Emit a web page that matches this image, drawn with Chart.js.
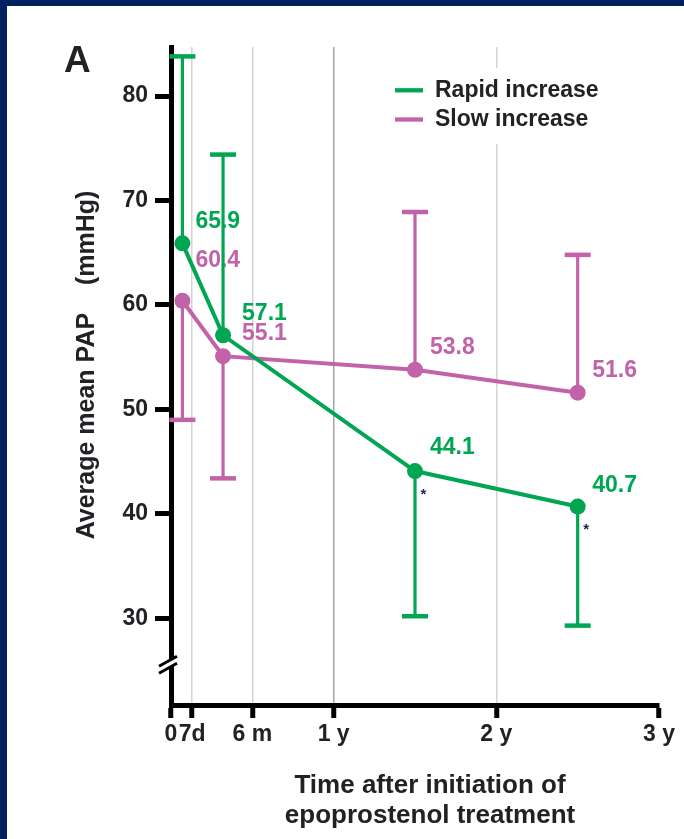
<!DOCTYPE html>
<html>
<head>
<meta charset="utf-8">
<title>Average mean PAP</title>
<script src="https://cdn.jsdelivr.net/npm/chart.js@4.4.1/dist/chart.umd.min.js"></script>
<style>
  html, body { margin: 0; padding: 0; background: #fff; }
  #wrap { width: 684px; height: 839px; }
</style>
</head>
<body>
<div id="wrap"><canvas id="chart" width="684" height="839"></canvas></div>
<script>
// ==== データ ====
const seriesNames = ["Rapid increase", "Slow increase"];
const timeYears   = [0.07, 0.32, 1.5, 2.5];        // 観察時点（年）
const rapidMean   = [65.9, 57.1, 44.1, 40.7];
const slowMean    = [60.4, 55.1, 53.8, 51.6];
// 片側エラーバーの端
const rapidErrEnd = [83.8, 74.4, 30.2, 29.3];
const slowErrEnd  = [49.0, 43.4, 68.9, 64.8];
const rapidStar   = [false, false, true, true];   // * 有意差
const xTickValues = [0, 0.13, 0.5, 1, 2, 3];
const xTickLabels = ["0", "7d", "6 m", "1 y", "2 y", "3 y"];
const yTickValues = [30, 40, 50, 60, 70, 80];

// ==== 見た目 ====
const GREEN  = "#00a651";
const PURPLE = "#c262a8";
const INK    = "#222226";
const NAVY   = "#002060";
const FONT   = "'Liberation Sans', Arial, Helvetica, sans-serif";
const BREAK_AT = 25.5;   // 縦軸の波線位置（値）
// データラベルの位置ずれ [dx, dy]
const LABEL_OFFSETS = [
  [[13, -22], [19, -21.5], [15, -23], [14.5, -21]],
  [[13, -40], [19, -22],   [15, -22.5], [14.5, -22]]
];
const errEnds = [rapidErrEnd, slowErrEnd];
const xGridColors = ["rgba(0,0,0,0)", "#d4d4d4", "#d4d4d4", "#a3a3a3", "#d4d4d4", "rgba(0,0,0,0)"];

/** 背景と紺色の枠 */
const framePlugin = {
  id: "frame",
  beforeDraw(chart) {
    const c = chart.ctx;
    c.save();
    c.fillStyle = "#fff";
    c.fillRect(0, 0, chart.width, chart.height);
    c.fillStyle = NAVY;
    c.fillRect(0, 0, chart.width, 6);
    c.fillRect(0, 0, 7, chart.height);
    c.restore();
  }
};

/** 数値ラベル → エラーバー（ラベルの上にバーが重なる） */
const errorBarPlugin = {
  id: "errorBars",
  beforeDatasetsDraw(chart) {
    const c = chart.ctx;
    const y = chart.scales.y;
    c.save();
    c.font = `bold 23px ${FONT}`;
    c.textAlign = "left";
    c.textBaseline = "middle";
    chart.data.datasets.forEach((ds, di) => {
      chart.getDatasetMeta(di).data.forEach((pt, i) => {
        const [dx, dy] = LABEL_OFFSETS[di][i];
        c.fillStyle = ds.borderColor;
        c.fillText(ds.data[i].y.toFixed(1), pt.x + dx, pt.y + dy);
      });
    });
    chart.data.datasets.forEach((ds, di) => {
      chart.getDatasetMeta(di).data.forEach((pt, i) => {
        const yEnd = y.getPixelForValue(errEnds[di][i]);
        c.strokeStyle = ds.borderColor;
        c.lineWidth = 3.2;
        c.beginPath(); c.moveTo(pt.x, pt.y); c.lineTo(pt.x, yEnd); c.stroke();
        c.lineWidth = 4.5;
        c.beginPath(); c.moveTo(pt.x - 13, yEnd); c.lineTo(pt.x + 13, yEnd); c.stroke();
      });
    });
    c.restore();
  }
};

/** 凡例・星印 */
const legendPlugin = {
  id: "legendBox",
  afterDatasetsDraw(chart) {
    const c = chart.ctx;
    c.save();
    // 有意差の *
    c.font = `bold 15px ${FONT}`;
    c.fillStyle = "#1d2452";
    c.textAlign = "center";
    c.textBaseline = "middle";
    chart.getDatasetMeta(0).data.forEach((pt, i) => {
      if (rapidStar[i]) c.fillText("*", pt.x + 8.5, pt.y + 23.5);
    });
    // 凡例
    c.fillStyle = "#fff";
    c.fillRect(386, 68, 226, 76);
    const rows = [90.3, 119.5];
    c.font = `bold 23px ${FONT}`;
    c.textAlign = "left";
    chart.data.datasets.forEach((ds, di) => {
      c.strokeStyle = ds.borderColor;
      c.lineWidth = 4.3;
      c.beginPath(); c.moveTo(395, rows[di]); c.lineTo(423, rows[di]); c.stroke();
      c.fillStyle = INK;
      c.fillText(ds.label, 435, rows[di]);
    });
    c.restore();
  }
};

/** 軸の波線とタイトル類 */
const titlePlugin = {
  id: "titles",
  afterDraw(chart) {
    const c = chart.ctx;
    const x0 = chart.chartArea.left;
    const yb = chart.scales.y.getPixelForValue(BREAK_AT);
    c.save();
    // 波線
    c.fillStyle = "#fff";
    c.beginPath();
    c.moveTo(x0 - 12, yb + 1); c.lineTo(x0 + 6, yb - 9);
    c.lineTo(x0 + 6, yb - 2); c.lineTo(x0 - 12, yb + 8);
    c.closePath(); c.fill();
    c.strokeStyle = "#000";
    c.lineWidth = 3;
    c.beginPath(); c.moveTo(x0 - 12, yb + 1); c.lineTo(x0 + 6, yb - 9); c.stroke();
    c.beginPath(); c.moveTo(x0 - 12, yb + 8); c.lineTo(x0 + 6, yb - 2); c.stroke();

    c.fillStyle = INK;
    c.textBaseline = "alphabetic";
    // パネル記号
    c.font = `bold 37px ${FONT}`;
    c.textAlign = "left";
    c.fillText("A", 64, 72);
    // 横軸タイトル
    c.font = `bold 26px ${FONT}`;
    c.textAlign = "center";
    c.fillText("Time after initiation of", 430, 793);
    c.fillText("epoprostenol treatment", 430, 823);
    // 縦軸タイトル
    c.translate(93.5, 365);
    c.rotate(-Math.PI / 2);
    c.font = `bold 25px ${FONT}`;
    c.fillText("Average mean PAP    (mmHg)", 0, 0);
    c.restore();
  }
};

const ctx = document.getElementById("chart").getContext("2d");
new Chart(ctx, {
  type: "line",
  data: {
    datasets: [
      {
        label: seriesNames[0],
        data: timeYears.map((x, i) => ({ x, y: rapidMean[i] })),
        borderColor: GREEN, backgroundColor: GREEN,
        borderWidth: 4, pointRadius: 8, pointBorderWidth: 0, pointHoverRadius: 8
      },
      {
        label: seriesNames[1],
        data: timeYears.map((x, i) => ({ x, y: slowMean[i] })),
        borderColor: PURPLE, backgroundColor: PURPLE,
        borderWidth: 4, pointRadius: 8, pointBorderWidth: 0, pointHoverRadius: 8
      }
    ]
  },
  options: {
    responsive: false,
    animation: false,
    devicePixelRatio: 1,
    layout: { padding: { left: 0, top: 47, right: 25, bottom: 0 } },
    plugins: { legend: { display: false }, tooltip: { enabled: false } },
    scales: {
      x: {
        type: "linear", min: 0, max: 3,
        afterBuildTicks: s => { s.ticks = xTickValues.map(v => ({ value: v })); },
        afterFit: s => { s.height = 134; },
        ticks: {
          autoSkip: false, maxRotation: 0, padding: 3, color: INK,
          font: { family: FONT, size: 23, weight: "bold" },
          callback: v => xTickLabels[xTickValues.indexOf(v)]
        },
        grid: {
          color: c => xGridColors[c.index], lineWidth: 1.5,
          tickColor: "#000", tickWidth: 5, tickLength: 13
        },
        border: { color: "#000", width: 5 }
      },
      y: {
        type: "linear", min: 21.7, max: 84.7,
        afterBuildTicks: s => { s.ticks = yTickValues.map(v => ({ value: v })); },
        afterFit: s => { s.width = 171; },
        ticks: {
          padding: 7, color: INK,
          font: { family: FONT, size: 23, weight: "bold" }
        },
        grid: {
          drawOnChartArea: false,
          tickColor: "#000", tickWidth: 5, tickLength: 16
        },
        border: { color: "#000", width: 5 }
      }
    }
  },
  plugins: [framePlugin, errorBarPlugin, legendPlugin, titlePlugin]
});
</script>
</body>
</html>
